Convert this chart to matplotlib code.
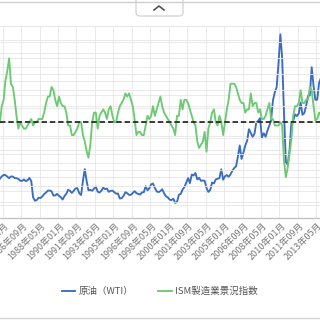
import matplotlib
matplotlib.use("Agg")
import matplotlib.pyplot as plt
import matplotlib.dates as mdates
from matplotlib.ticker import MultipleLocator
from matplotlib.transforms import ScaledTranslation
from matplotlib.patches import FancyBboxPatch
from matplotlib.lines import Line2D
import pandas as pd

plt.rcParams['font.family'] = ['Noto Sans CJK JP', 'DejaVu Sans']

# values, one point every two months
ism = [50, 55, 57, 63, 66, 69.9,
       62, 61, 57, 52, 48, 50,
       49, 48, 48, 49, 50, 51,
       49, 50, 50, 51, 51, 51,
       53, 56, 58, 58, 61, 60,
       57, 55, 58, 56, 55, 55,
       53, 49, 49, 46, 46, 47,
       48, 50, 50, 46, 44, 41,
       39, 43, 50, 53, 53, 48,
       52, 53, 54, 53, 51, 54,
       55, 52, 50, 50, 53, 55,
       56, 57, 59, 58, 59, 57,
       55, 51, 46, 47, 47, 46,
       46, 49, 52, 51, 52, 55,
       52, 54, 56, 58, 55, 53,
       52, 51, 50, 49, 48, 46,
       52, 52, 57, 54, 57, 57,
       56, 54, 52, 50, 49, 44,
       42, 43, 44, 47, 40.8, 48,
       50, 53, 54, 50, 49, 52,
       50, 46, 50, 54, 57, 62,
       62, 62, 61, 59, 57, 56,
       56, 53, 54, 54, 59, 55,
       56, 56, 53, 54, 51, 51,
       52, 54, 56, 51, 51, 49,
       49, 49, 50, 49, 38, 32.9,
       35.8, 40, 45, 52, 55, 55,
       56, 60, 56, 56, 57, 57,
       61, 60, 55, 50.6, 51, 53,
       52]

wti = [29.0, 30.6, 31.7, 31.6, 30.4, 29.3,
       30.6, 30.5, 29.4, 29.3, 28.8, 27.5,
       27.3, 28.4, 27.2, 27.8, 29.5, 27.3,
       15.4, 12.9, 13.5, 15.1, 14.9, 16.1,
       17.8, 18.9, 20.3, 20.3, 19.8, 16.7,
       16.8, 17.9, 16.5, 15.5, 13.8, 16.3,
       18.0, 20.9, 20.1, 18.6, 20.1, 21.8,
       22.1, 18.4, 17.1, 27.2, 35.9, 27.3,
       20.5, 20.8, 20.2, 21.7, 23.2, 19.5,
       18.9, 20.2, 22.4, 21.4, 21.7, 19.4,
       20.1, 20.3, 19.1, 18.0, 18.2, 14.5,
       14.8, 16.4, 19.1, 18.4, 17.2, 17.2,
       18.5, 19.9, 18.4, 17.9, 17.4, 19.0,
       19.1, 23.5, 20.5, 22.0, 24.9, 25.4,
       22.2, 19.7, 19.2, 19.9, 21.3, 18.3,
       16.1, 15.4, 13.7, 13.4, 14.4, 11.3,
       12.0, 17.3, 17.9, 21.0, 22.8, 26.1,
       29.4, 25.7, 32.0, 31.3, 33.1, 28.4,
       29.6, 27.4, 27.6, 27.4, 22.2, 19.3,
       20.7, 26.2, 25.5, 28.4, 28.9, 29.4,
       35.8, 28.2, 30.7, 31.6, 30.3, 32.1,
       34.7, 36.7, 38.0, 44.9, 53.1, 43.3,
       48.0, 53.0, 56.6, 64.9, 62.3, 59.4,
       61.6, 70.0, 70.9, 73.0, 58.9, 62.0,
       59.4, 63.9, 67.5, 71.6, 85.8, 91.7,
       95.4, 112.6, 133.9, 116.7, 76.6, 41.1,
       39.2, 49.7, 69.6, 71.1, 75.7, 74.5,
       76.4, 84.3, 75.4, 76.7, 81.9, 89.2,
       89.6, 110.0, 96.3, 86.3, 86.4, 98.6,
       102.2]

months = pd.date_range("1984-10-01", periods=len(ism), freq="2MS")
tick_dates = pd.date_range("1985-01-01", "2013-12-01", freq="20MS")
tick_labels = [f"{d.year}年{d.month:02d}月" for d in tick_dates]
names = ["原油（WTI）", "ISM製造業景況指数"]

fig = plt.figure(figsize=(3.2, 3.2), dpi=100)
ax = fig.add_axes([0, 0.3172, 1, 0.6016])
ax2 = ax.twinx()

start = mdates.date2num(pd.Timestamp("1985-01-01"))
ax.set_xlim(start - 89, start + 10470)

l1, = ax.plot(months, wti, color="#3a6cc2", lw=1.35)
ax.set_ylim(0, 140)
l2, = ax2.plot(months, ism, color="#6cca73", lw=1.35)
ax2.set_ylim(20, 80)
ax2.axhline(50, color="#2b2b2b", lw=1.3, ls=(0, (3, 1.6)), zorder=5)

ax.yaxis.set_major_locator(MultipleLocator(10))
ax2.yaxis.set_major_locator(MultipleLocator(5))
ax.grid(True, color="#e6e6e6", lw=0.6)
ax2.grid(axis="y", color="#e6e6e6", lw=0.6)
ax2.set_axisbelow(True)

for a in (ax, ax2):
    for s in ("left", "right", "top"):
        a.spines[s].set_visible(False)
    a.tick_params(axis="y", left=False, right=False, labelleft=False, labelright=False)
ax2.spines["bottom"].set_visible(False)
ax.spines["bottom"].set_color("#c4c4c4")
ax.spines["bottom"].set_linewidth(1.0)

ax.set_xticks(tick_dates)
ax.set_xticklabels(tick_labels)
ax.tick_params(axis="x", length=0, pad=4, labelsize=6.5, labelcolor="#777777")
off = ScaledTranslation(0.045, 0, fig.dpi_scale_trans)
for lbl in ax.get_xticklabels():
    lbl.set_rotation(45)
    lbl.set_ha("right")
    lbl.set_va("center")
    lbl.set_rotation_mode("anchor")
    lbl.set_transform(lbl.get_transform() + off)

fig.legend([l1, l2], names, loc="center", bbox_to_anchor=(0.5, 0.09), ncol=2,
           frameon=False, fontsize=6.8, handlelength=1.4, handletextpad=0.4,
           columnspacing=2.6, labelcolor="#555555")

# page decoration around the chart
fig.add_artist(Line2D([0, 1], [1 - 2 / 320, 1 - 2 / 320], color="#cfcfcf", lw=1))
fig.add_artist(Line2D([0, 1], [2 / 320, 2 / 320], color="#d5d5d5", lw=1))
tab = FancyBboxPatch((136 / 320, 1 - 16 / 320), 47 / 320, 20 / 320,
                     boxstyle="round,pad=0,rounding_size=0.012",
                     transform=fig.transFigure, fc="white", ec="#cccccc", lw=0.8)
fig.add_artist(tab)
fig.add_artist(Line2D([154 / 320, 159 / 320, 164 / 320],
                      [1 - 10 / 320, 1 - 6 / 320, 1 - 10 / 320],
                      color="#555555", lw=1.2))

fig.savefig("out.png", dpi=100)
